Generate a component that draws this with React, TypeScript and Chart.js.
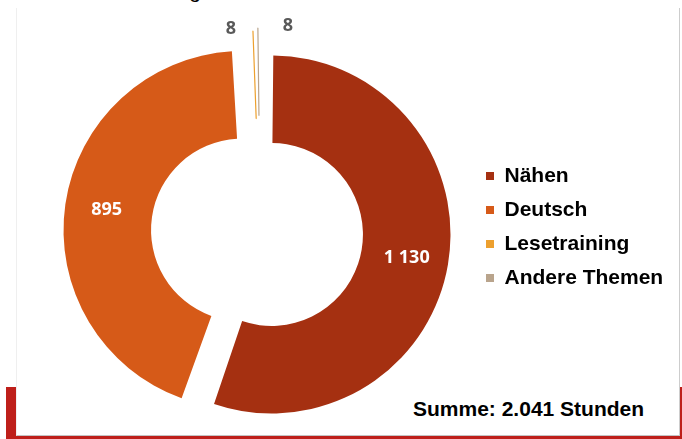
import React, { useEffect, useRef } from 'react';
import { Chart, registerables } from 'chart.js';

Chart.register(...registerables);

const categories = ['Nähen', 'Deutsch', 'Lesetraining', 'Andere Themen'];
const hours = [1130, 895, 8, 8];
const valueLabels = ['1 130', '895', '8', '8'];
const sliceColors = ['#A53011', '#D65A18', '#EDA02E', '#B9A48C'];
const sliceOffsets = [45.1, 72.4, 68.8, 74.8];
const sliceBorders = [0, 0, 1.2, 1.2];
const totalLabel = 'Summe: 2.041 Stunden';
const headingText = 'Stundenverteilung';

export default function App() {
  const ref = useRef<HTMLCanvasElement>(null);

  useEffect(() => {
    const canvas = ref.current;
    if (!canvas) return;

    const labelPlugin = {
      id: 'sliceLabels',
      afterDatasetsDraw(chart: any) {
        const ctx = chart.ctx;
        const meta = chart.getDatasetMeta(0);
        ctx.save();
        ctx.font = 'bold 18px "Open Sans"';
        ctx.textAlign = 'center';
        ctx.textBaseline = 'middle';
        meta.data.forEach((el: any, i: number) => {
          const p = el.getProps(['x', 'y', 'startAngle', 'endAngle', 'innerRadius', 'outerRadius', 'circumference'], true);
          const o = (el.options.offset || 0) / 4;
          const half = (p.startAngle + p.endAngle) / 2;
          const fix = 1 - Math.sin(Math.min(Math.PI, p.circumference || 0));
          const cx = p.x + Math.cos(half) * o;
          const cy = p.y + Math.sin(half) * o;
          const ri = p.innerRadius + o * fix;
          const ro = p.outerRadius + o * fix;
          let r: number;
          let dx = 0;
          let color: string;
          if (i < 2) {
            r = (ri + ro) / 2 + 2;
            color = '#FFFFFF';
          } else {
            r = ro + 2;
            dx = i === 2 ? -22 : 30;
            color = '#595959';
          }
          ctx.fillStyle = color;
          ctx.fillText(valueLabels[i], cx + Math.cos(half) * r + dx, cy + Math.sin(half) * r);
        });
        ctx.restore();
      },
    };

    const chart = new Chart(canvas, {
      type: 'doughnut',
      data: {
        labels: categories,
        datasets: [
          {
            data: hours,
            backgroundColor: sliceColors,
            borderColor: sliceColors,
            borderWidth: sliceBorders,
            offset: sliceOffsets,
            hoverOffset: 0,
            clip: false,
          } as any,
        ],
      },
      options: {
        responsive: false,
        maintainAspectRatio: false,
        animation: false,
        events: [],
        radius: 167.7,
        cutout: '47.8%',
        layout: {
          padding: { left: 47.8, right: 8.8, top: 30, bottom: 3.8 },
        },
        plugins: {
          tooltip: { enabled: false },
          legend: {
            display: true,
            position: 'right',
            title: {
              display: true,
              text: '',
              font: { size: 1 },
              padding: { top: 0, bottom: -12.4 },
            },
            labels: {
              boxWidth: 8,
              boxHeight: 8,
              padding: 13,
              color: '#000000',
              font: { family: '"Liberation Sans", Arial, sans-serif', size: 21, weight: 'bold' },
              generateLabels: (c: any) =>
                (Chart as any).overrides.doughnut.plugins.legend.labels
                  .generateLabels(c)
                  .map((l: any) => ({ ...l, lineWidth: 0, strokeStyle: 'rgba(0,0,0,0)' })),
            },
          },
        },
      } as any,
      plugins: [labelPlugin],
    });

    return () => chart.destroy();
  }, []);

  return (
    <div
      style={{
        position: 'fixed',
        left: 0,
        top: 0,
        width: 682,
        height: 439,
        background: '#FFFFFF',
        overflow: 'hidden',
      }}
    >
      <div
        style={{
          position: 'absolute',
          left: 6,
          top: 387,
          width: 676,
          height: 52,
          background: '#BE1F1A',
        }}
      />
      <div
        style={{
          position: 'absolute',
          left: 16,
          top: 8,
          width: 664,
          height: 428,
          boxSizing: 'border-box',
          background: '#FFFFFF',
          borderLeft: '1px solid #EFEFEF',
          borderRight: '1px solid #CDCDCD',
          borderBottom: '1px solid #C4C4C4',
        }}
      />
      <div
        style={{
          position: 'absolute',
          right: 481,
          top: -20,
          fontFamily: '"Liberation Sans", Arial, sans-serif',
          fontSize: 21,
          lineHeight: '21px',
          color: '#000000',
          whiteSpace: 'nowrap',
        }}
      >
        {headingText}
      </div>
      <div
        style={{
          position: 'absolute',
          left: 413,
          top: 398,
          fontFamily: '"Liberation Sans", Arial, sans-serif',
          fontWeight: 'bold',
          fontSize: 21,
          lineHeight: '21px',
          color: '#000000',
          whiteSpace: 'nowrap',
        }}
      >
        {totalLabel}
      </div>
      <canvas
        ref={ref}
        width={682}
        height={439}
        style={{ position: 'absolute', left: 0, top: 0, width: 682, height: 439 }}
      />
    </div>
  );
}
